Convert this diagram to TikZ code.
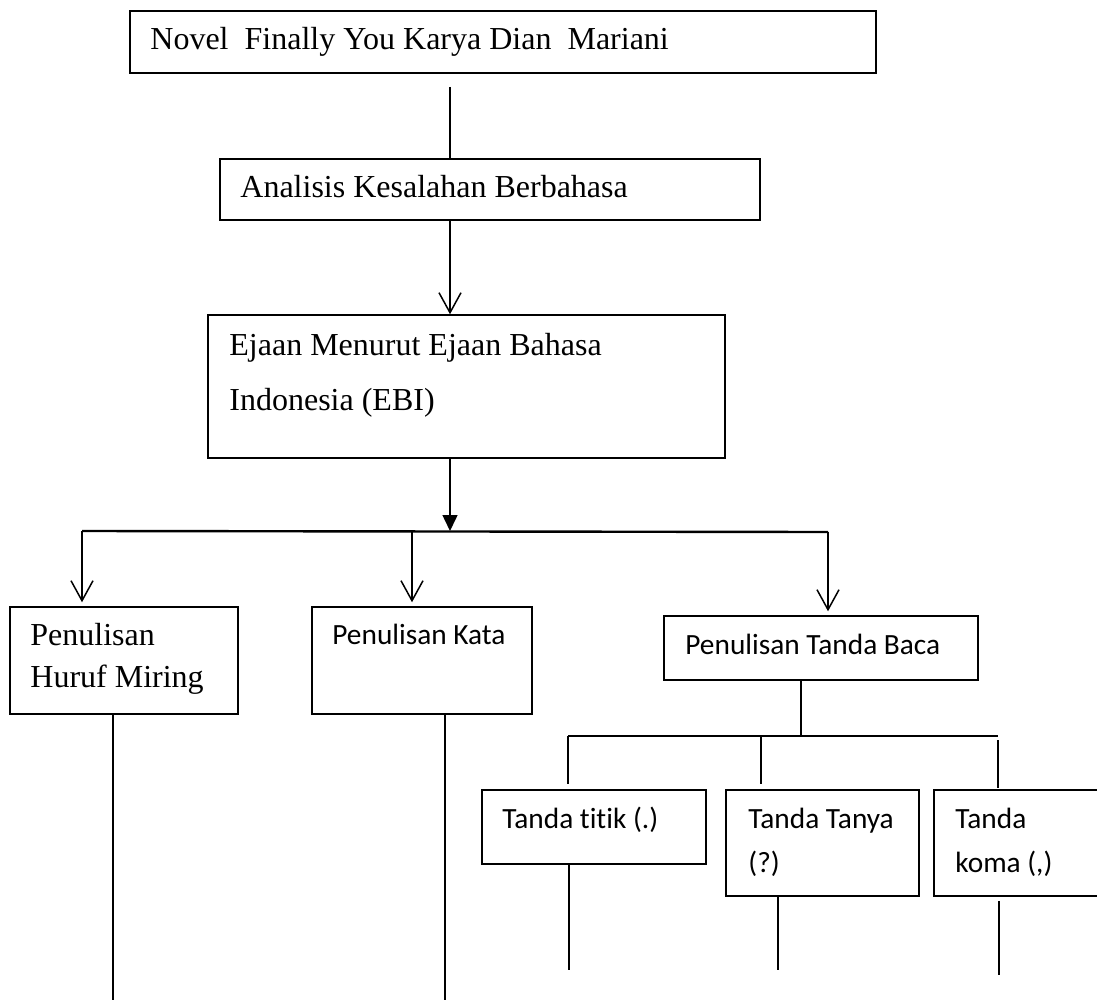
\documentclass[tikz,border=0pt]{standalone}
\usepackage{fontspec}
\setmainfont{Liberation Serif}
\newfontfamily\calibri[Ligatures=CommonOff]{Carlito}
\usetikzlibrary{arrows.meta}

\tikzset{
  box/.style={draw, line width=0.75pt, inner sep=0pt},
  txt/.style={anchor=base west, inner sep=0pt, align=left, font=\fontsize{16}{21}\selectfont},
  sanstxt/.style={anchor=base west, inner sep=0pt, align=left, font=\calibri\fontsize{14.67}{22}\selectfont},
  line/.style={line width=0.75pt},
  thickline/.style={line width=1.2pt},
  arr/.style={line width=0.75pt, -{Straight Barb[length=10pt,width=11pt]}}
}

\begin{document}
\begin{tikzpicture}
[x=0.5pt, y=-0.5pt]
  \path[use as bounding box, clip] (0,0) rectangle (1097,1000);
  % boxes
  \node[box, minimum width=373pt, minimum height=31pt] (novel) at (503,42) {};
  \node[box, minimum width=270pt, minimum height=30.5pt] (analisis) at (490,189.5) {};
  \node[box, minimum width=258.5pt, minimum height=71.5pt] (ejaan) at (466.5,386.5) {};
  \node[box, minimum width=114pt, minimum height=53.5pt] (miring) at (124,660.5) {};
  \node[box, minimum width=110pt, minimum height=53.5pt] (kata) at (422,660.5) {};
  \node[box, minimum width=157pt, minimum height=32pt] (baca) at (821,648) {};
  \node[box, minimum width=112pt, minimum height=37pt] (titik) at (594,827) {};
  \node[box, minimum width=96.5pt, minimum height=53pt] (tanya) at (822.5,843) {};
  \node[box, minimum width=88pt, minimum height=53pt] (koma) at (1022,843) {};
  % texts (multi-line ones sit on their last baseline)
  \node[txt] (novelTxt) at (150,50) {Novel\ \ Finally You Karya Dian\ \ Mariani};
  \node[txt] (analisisTxt) at (240,198) {Analisis Kesalahan Berbahasa};
  \node[txt, font=\fontsize{16}{27.5}\selectfont] (ejaanTxt) at (229,410) {Ejaan Menurut Ejaan Bahasa\\Indonesia (EBI)};
  \node[txt] (miringTxt) at (30,687) {Penulisan\\Huruf Miring};
  \node[sanstxt] (kataTxt) at (332,644) {Penulisan Kata};
  \node[sanstxt] (bacaTxt) at (685,654) {Penulisan Tanda Baca};
  \node[sanstxt] (titikTxt) at (502,828) {Tanda titik (.)};
  \node[sanstxt] (tanyaTxt) at (748,872) {Tanda Tanya\\(?)};
  \node[sanstxt] (komaTxt) at (955,872) {Tanda\\koma (,)};
  % junctions and free ends
  \coordinate (top) at (450,87);
  \coordinate (hub) at (450,531);
  \coordinate (hubL) at (82,531);
  \coordinate (hubM) at (412,531);
  \coordinate (hubR) at (828,532);
  \coordinate (sub) at (801,736);
  \coordinate (subL) at (568,736);
  \coordinate (subM) at (761,736);
  \coordinate (subR) at (998,736);
  \coordinate (endA) at (113,1000);
  \coordinate (endB) at (445,1000);
  \coordinate (endC) at (569,970);
  \coordinate (endD) at (778,970);
  \coordinate (endE) at (999,975);
  % connectors
  \draw[line] (top) -- (analisis.north -| top);
  \draw[arr] (analisis.south -| top) -- (ejaan.north -| top);
  \draw[line, -{Triangle[length=8pt,width=7.5pt]}] (ejaan.south -| hub) -- (hub);
  \draw[thickline] (hubL) -- (hubR);
  \draw[arr, shorten >=2pt] (hubL) -- (miring.north -| hubL);
  \draw[arr, shorten >=2pt] (hubM) -- (kata.north -| hubM);
  \draw[arr, shorten >=2pt] (hubR) -- (baca.north -| hubR);
  \draw[line] (baca.south -| sub) -- (sub);
  \draw[line width=1pt] (subL) -- (subR);
  \draw[thickline, shorten >=2.5pt] (subL) -- (titik.north -| subL);
  \draw[thickline, shorten >=2.5pt] (subM) -- (tanya.north -| subM);
  \draw[line, shorten <=2pt, shorten >=0.5pt] (subR) -- (koma.north -| subR);
  \draw[line] (miring.south -| endA) -- (endA);
  \draw[line] (kata.south -| endB) -- (endB);
  \draw[thickline] (titik.south -| endC) -- (endC);
  \draw[line] (tanya.south -| endD) -- (endD);
  \draw[line, shorten <=2pt] (koma.south -| endE) -- (endE);
\end{tikzpicture}
\end{document}
